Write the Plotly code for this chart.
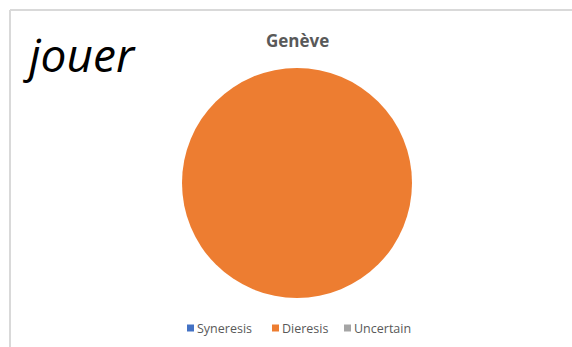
import plotly.graph_objects as go

# Share of each outcome for the Genève speakers
categories = ["Syneresis", "Dieresis", "Uncertain"]
values = [0, 100, 0]
colors = ["#4472C4", "#ED7D31", "#A5A5A5"]

W, H = 572, 347
FONT = "Open Sans, Liberation Sans, sans-serif"

fig = go.Figure(
    go.Pie(
        labels=categories,
        values=values,
        sort=False,
        direction="clockwise",
        marker=dict(colors=colors, line=dict(color="#ffffff", width=0)),
        textinfo="none",
        hoverinfo="label+value",
        showlegend=False,
        domain=dict(x=[(297 - 160) / W, (297 + 160) / W],
                    y=[(H - 298) / H, (H - 68) / H]),
    )
)

annotations = [
    dict(
        text="<b>Genève</b>",
        x=297 / W, y=1 - 40 / H,
        xref="paper", yref="paper",
        xanchor="center", yanchor="middle",
        showarrow=False,
        font=dict(family=FONT, size=17, color="#595959"),
    ),
    dict(
        text="<i>jouer</i>",
        x=21 / W, y=1 - 54 / H,
        xref="paper", yref="paper",
        xanchor="left", yanchor="middle",
        showarrow=False,
        font=dict(family=FONT, size=46, color="#000000"),
    ),
]

shapes = [
    dict(type="line", xref="paper", yref="paper",
         x0=10 / W, y0=1 - 10 / H, x1=1, y1=1 - 10 / H,
         line=dict(color="#d9d9d9", width=2)),
    dict(type="line", xref="paper", yref="paper",
         x0=10 / W, y0=1 - 10 / H, x1=10 / W, y1=0,
         line=dict(color="#d9d9d9", width=2)),
]

# Compact legend row under the pie: a small swatch and a label per category
legend_x = [187, 272, 344]
legend_y = 328
for name, col, lx in zip(categories, colors, legend_x):
    shapes.append(dict(
        type="rect", xref="paper", yref="paper",
        x0=lx / W, x1=(lx + 7) / W,
        y0=1 - (legend_y + 3.5) / H, y1=1 - (legend_y - 3.5) / H,
        fillcolor=col, line=dict(width=0),
    ))
    annotations.append(dict(
        text=name,
        x=(lx + 8) / W, y=1 - legend_y / H,
        xref="paper", yref="paper",
        xanchor="left", yanchor="middle",
        showarrow=False,
        font=dict(family=FONT, size=12.5, color="#595959"),
    ))

fig.update_layout(
    width=W,
    height=H,
    margin=dict(l=0, r=0, t=0, b=0),
    paper_bgcolor="#ffffff",
    plot_bgcolor="#ffffff",
    annotations=annotations,
    shapes=shapes,
)

fig.write_html("out.html")
